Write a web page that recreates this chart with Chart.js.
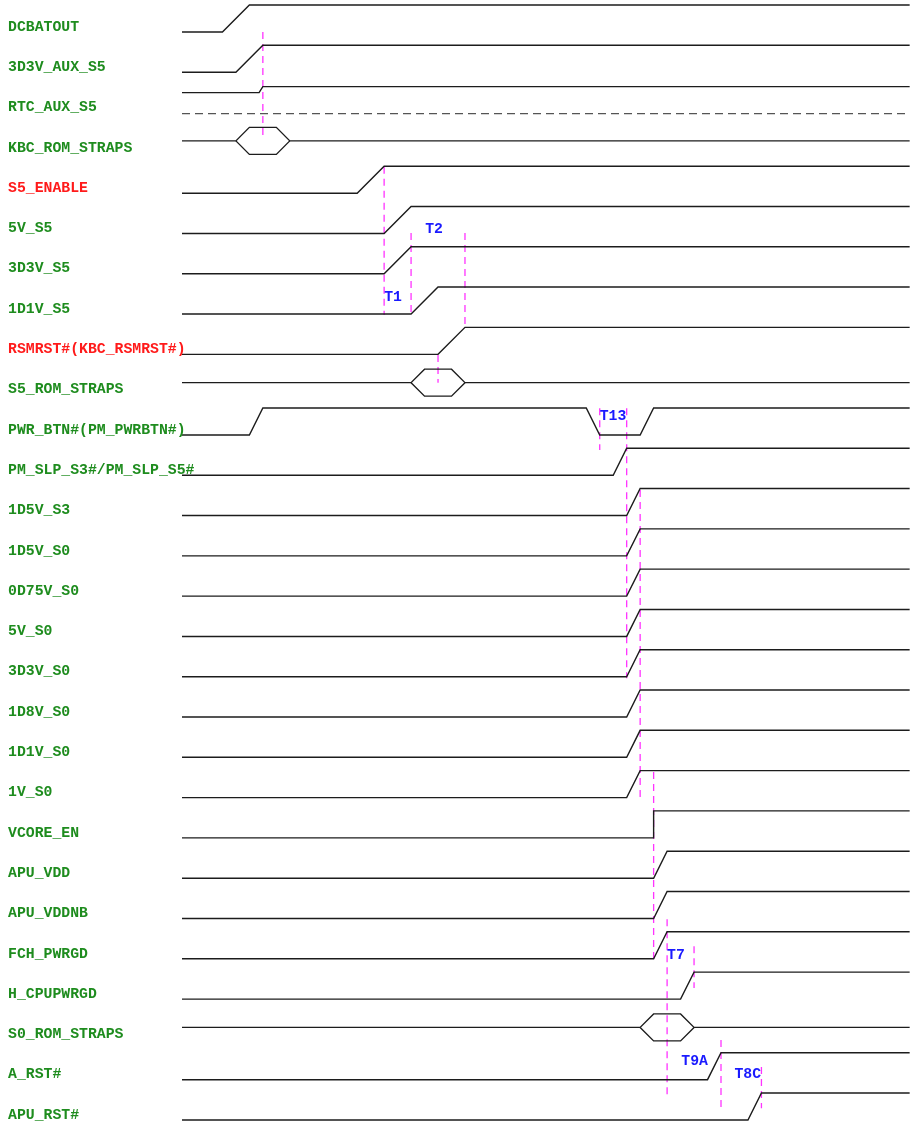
<!DOCTYPE html>
<html><head><meta charset="utf-8">
<script src="https://cdn.jsdelivr.net/npm/chart.js@4/dist/chart.umd.min.js"></script>
<style>html,body{margin:0;padding:0;background:#fff;overflow:hidden}canvas{display:block}</style>
</head><body>
<canvas id="c" width="911" height="1128"></canvas>
<script>
// ---- data ----
const signals = ['DCBATOUT','3D3V_AUX_S5','RTC_AUX_S5','KBC_ROM_STRAPS','S5_ENABLE','5V_S5','3D3V_S5','1D1V_S5',
  'RSMRST#(KBC_RSMRST#)','S5_ROM_STRAPS','PWR_BTN#(PM_PWRBTN#)','PM_SLP_S3#/PM_SLP_S5#','1D5V_S3','1D5V_S0',
  '0D75V_S0','5V_S0','3D3V_S0','1D8V_S0','1D1V_S0','1V_S0','VCORE_EN','APU_VDD','APU_VDDNB','FCH_PWRGD',
  'H_CPUPWRGD','S0_ROM_STRAPS','A_RST#','APU_RST#'];
const redSignals = ['S5_ENABLE','RSMRST#(KBC_RSMRST#)'];
const signalKind = ['step','step','aux','bus','step','step','step','step','step','bus','step','step','step','step',
  'step','step','step','step','step','step','step','step','step','step','step','bus','step','step'];
// transition times (time units): step = pairs [start,end] of alternating edges (first rising); bus = window [a,b,c,d]
const transitions = [[3,5],[4,6],[5.72,6],[4,5,7,8],[13,15],[15,17],[15,17],[17,19],[19,21],[17,18,20,21],
  [5,6,30,31,34,35],[32,33],[33,34],[33,34],[33,34],[33,34],[33,34],[33,34],[33,34],[33,34],[35,35],
  [35,36],[35,36],[35,36],[37,38],[34,35,37,38],[39,40],[42,43]];
const timeEnd = 54;
// timing markers (magenta dashed): time, from row, to row
const markerTimes = [6,15,17,21,19,31,33,34,35,36,38,40,43];
const markerFrom  = [0.124,3.47,5.11,5.11,8.14,9.46,9.46,11.49,18.49,22.14,22.81,25.14,25.81];
const markerTo    = [2.80,7.15,7.15,7.47,8.83,10.50,16.16,19.16,23.15,26.50,23.85,26.83,26.83];
// timing labels
const annotTexts = ['T2','T1','T13','T7','T9A','T8C'];
const annotTimes = [18.05,15.0,31.0,36.0,37.05,41.0];
const annotRows  = [5.03,6.70,9.67,23.03,25.66,26.0];

// ---- layout constants (row offsets) ----
const LOW = 0.124, HIGH = -0.546, MID = -0.174, HEXT = -0.509, HEXB = 0.161;
const RTC_LOW = -0.372, RTC_HIGH = -0.521, RTC_DASH = 0.149;
const LINE = '#1c1c1c', LW = 1.4;
const FONT = "bold 14.8px 'Liberation Mono', 'Courier New', monospace";

const datasets = [];
function lineDs(pts, extra) {
  return Object.assign({data: pts, showLine: true, pointRadius: 0, borderColor: LINE, borderWidth: LW,
    fill: false, tension: 0}, extra || {});
}
signals.forEach((name, i) => {
  const t = transitions[i], k = signalKind[i];
  if (k === 'bus') {
    const [a,b,c,d] = t;
    datasets.push(lineDs([{x:0,y:i+MID},{x:a,y:i+MID},{x:b,y:i+HEXT},{x:c,y:i+HEXT},{x:d,y:i+MID},{x:timeEnd,y:i+MID}]));
    datasets.push(lineDs([{x:a,y:i+MID},{x:b,y:i+HEXB},{x:c,y:i+HEXB},{x:d,y:i+MID}]));
  } else {
    const lo = k === 'aux' ? RTC_LOW : LOW, hi = k === 'aux' ? RTC_HIGH : HIGH;
    let cur = lo; const pts = [{x:0,y:i+cur}];
    for (let j = 0; j < t.length; j += 2) {
      pts.push({x:t[j],y:i+cur});
      cur = cur === lo ? hi : lo;
      pts.push({x:t[j+1],y:i+cur});
    }
    pts.push({x:timeEnd,y:i+cur});
    datasets.push(lineDs(pts));
    if (k === 'aux') datasets.push(lineDs([{x:0,y:i+RTC_DASH},{x:timeEnd,y:i+RTC_DASH}], {borderColor:'#555', borderDash:[8,5]}));
  }
});
markerTimes.forEach((m, j) => {
  datasets.push(lineDs([{x:m,y:markerFrom[j]},{x:m,y:markerTo[j]}], {borderColor:'#ff33ff', borderWidth:1.3, borderDash:[7,5]}));
});

const textPlugin = {
  id: 'texts',
  afterDraw(chart) {
    const {ctx, scales:{x, y}} = chart;
    ctx.save();
    ctx.font = FONT;
    ctx.textAlign = 'left'; ctx.textBaseline = 'middle';
    signals.forEach((s, i) => {
      ctx.fillStyle = redSignals.includes(s) ? '#ff1a1a' : '#1e8c1e';
      ctx.fillText(s, 8, y.getPixelForValue(i));
    });
    ctx.fillStyle = '#1a1aff';
    annotTexts.forEach((s, j) => ctx.fillText(s, x.getPixelForValue(annotTimes[j]), y.getPixelForValue(annotRows[j])));
    ctx.restore();
  }
};

new Chart(document.getElementById('c'), {
  type: 'scatter',
  data: {datasets},
  plugins: [textPlugin],
  options: {
    responsive: false, animation: false, events: [],
    layout: {padding: {left: 8, right: 0, top: 0, bottom: 0}},
    plugins: {legend: {display: false}, tooltip: {enabled: false}},
    scales: {
      x: {type: 'linear', display: false, min: 0, max: 54.1},
      y: {type: 'linear', reverse: true, min: -0.670, max: 27.323,
        grid: {display: false}, border: {display: false},
        afterBuildTicks: s => { s.ticks = signals.map((_, i) => ({value: i})); },
        afterFit: s => { s.width = 174; s.paddingTop = 0; s.paddingBottom = 0; },
        ticks: {display: false}
      }
    }
  }
});
</script>
</body></html>
